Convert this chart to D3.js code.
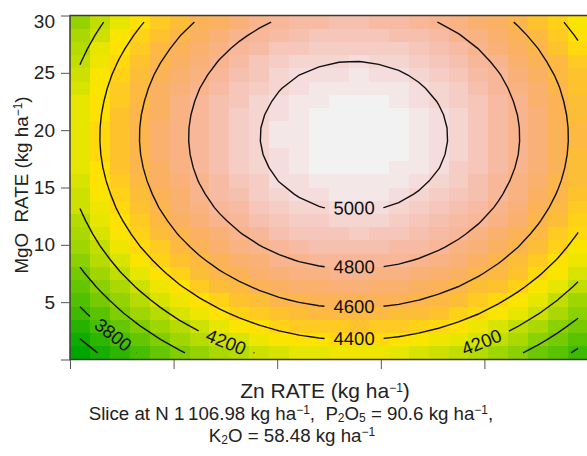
<!DOCTYPE html>
<html lang="en">
<head>
<meta charset="UTF-8">
<title>Zn x MgO yield surface</title>
<style>
  body { margin: 0; background: #fff; }
  svg { display: block; font-family: "Liberation Sans", Arial, sans-serif; }
  .axis path { display: none; }
  .axis line { stroke: #555; }
  .axis text { font-size: 19px; fill: #222; font-family: "Liberation Sans", Arial, sans-serif; }
  .contour { fill: none; stroke: #111; stroke-width: 1.4px; }
  .clabel { font-size: 18.5px; fill: #111; }
  .title { font-size: 21px; fill: #222; }
  .ytitle { font-size: 18.8px; fill: #222; }
  .caption { font-size: 18.7px; fill: #222; }
</style>
</head>
<body>
<svg width="587" height="456"></svg>
<script src="https://d3js.org/d3.v7.min.js"></script>
<script>
const znRange = [0, 10];
const mgoRange = [0, 30];
const znTicks = [0, 2, 4, 6, 8];
const mgoTicks = [0, 5, 10, 15, 20, 25, 30];
const levels = [3600, 3800, 4000, 4200, 4400, 4600, 4800, 5000];
const labelledLevels = [3800, 4200, 4400, 4600, 4800, 5000];

// predicted yield, 26 x 26 cells; first row = top (MgO 30), first column = Zn 0
const yieldRows = [
  [4067, 4180, 4285, 4381, 4468, 4548, 4618, 4680, 4733, 4778, 4815, 4843, 4862, 4873, 4875, 4868, 4854, 4830, 4798, 4758, 4709, 4651, 4585, 4510, 4427, 4335],
  [4115, 4228, 4333, 4429, 4516, 4596, 4666, 4728, 4781, 4826, 4863, 4891, 4910, 4921, 4923, 4916, 4902, 4878, 4846, 4806, 4757, 4699, 4633, 4558, 4475, 4383],
  [4157, 4270, 4375, 4471, 4558, 4638, 4708, 4770, 4823, 4868, 4905, 4933, 4952, 4963, 4965, 4958, 4944, 4920, 4888, 4848, 4799, 4741, 4675, 4600, 4517, 4425],
  [4193, 4306, 4411, 4507, 4594, 4674, 4744, 4806, 4859, 4904, 4941, 4969, 4988, 4999, 5001, 4994, 4980, 4956, 4924, 4884, 4835, 4777, 4711, 4636, 4553, 4461],
  [4224, 4337, 4442, 4538, 4625, 4705, 4775, 4837, 4890, 4935, 4972, 5000, 5019, 5030, 5032, 5025, 5011, 4987, 4955, 4915, 4866, 4808, 4742, 4667, 4584, 4492],
  [4248, 4361, 4466, 4562, 4649, 4729, 4799, 4861, 4914, 4959, 4996, 5024, 5043, 5054, 5056, 5049, 5035, 5011, 4979, 4939, 4890, 4832, 4766, 4691, 4608, 4516],
  [4266, 4379, 4484, 4580, 4667, 4747, 4817, 4879, 4932, 4977, 5014, 5042, 5061, 5072, 5074, 5067, 5053, 5029, 4997, 4957, 4908, 4850, 4784, 4709, 4626, 4534],
  [4279, 4392, 4497, 4593, 4680, 4760, 4830, 4892, 4945, 4990, 5027, 5055, 5074, 5085, 5087, 5080, 5066, 5042, 5010, 4970, 4921, 4863, 4797, 4722, 4639, 4547],
  [4286, 4399, 4504, 4600, 4687, 4767, 4837, 4899, 4952, 4997, 5034, 5062, 5081, 5092, 5094, 5087, 5073, 5049, 5017, 4977, 4928, 4870, 4804, 4729, 4646, 4554],
  [4287, 4400, 4505, 4601, 4688, 4768, 4838, 4900, 4953, 4998, 5035, 5063, 5082, 5093, 5095, 5088, 5074, 5050, 5018, 4978, 4929, 4871, 4805, 4730, 4647, 4555],
  [4282, 4395, 4500, 4596, 4683, 4763, 4833, 4895, 4948, 4993, 5030, 5058, 5077, 5088, 5090, 5083, 5069, 5045, 5013, 4973, 4924, 4866, 4800, 4725, 4642, 4550],
  [4271, 4384, 4489, 4585, 4672, 4752, 4822, 4884, 4937, 4982, 5019, 5047, 5066, 5077, 5079, 5072, 5058, 5034, 5002, 4962, 4913, 4855, 4789, 4714, 4631, 4539],
  [4254, 4367, 4472, 4568, 4655, 4735, 4805, 4867, 4920, 4965, 5002, 5030, 5049, 5060, 5062, 5055, 5041, 5017, 4985, 4945, 4896, 4838, 4772, 4697, 4614, 4522],
  [4231, 4344, 4449, 4545, 4632, 4712, 4782, 4844, 4897, 4942, 4979, 5007, 5026, 5037, 5039, 5032, 5018, 4994, 4962, 4922, 4873, 4815, 4749, 4674, 4591, 4499],
  [4203, 4316, 4421, 4517, 4604, 4684, 4754, 4816, 4869, 4914, 4951, 4979, 4998, 5009, 5011, 5004, 4990, 4966, 4934, 4894, 4845, 4787, 4721, 4646, 4563, 4471],
  [4168, 4281, 4386, 4482, 4569, 4649, 4719, 4781, 4834, 4879, 4916, 4944, 4963, 4974, 4976, 4969, 4955, 4931, 4899, 4859, 4810, 4752, 4686, 4611, 4528, 4436],
  [4128, 4241, 4346, 4442, 4529, 4609, 4679, 4741, 4794, 4839, 4876, 4904, 4923, 4934, 4936, 4929, 4915, 4891, 4859, 4819, 4770, 4712, 4646, 4571, 4488, 4396],
  [4082, 4195, 4300, 4396, 4483, 4563, 4633, 4695, 4748, 4793, 4830, 4858, 4877, 4888, 4890, 4883, 4869, 4845, 4813, 4773, 4724, 4666, 4600, 4525, 4442, 4350],
  [4030, 4143, 4248, 4344, 4431, 4511, 4581, 4643, 4696, 4741, 4778, 4806, 4825, 4836, 4838, 4831, 4817, 4793, 4761, 4721, 4672, 4614, 4548, 4473, 4390, 4298],
  [3972, 4085, 4190, 4286, 4373, 4453, 4523, 4585, 4638, 4683, 4720, 4748, 4767, 4778, 4780, 4773, 4759, 4735, 4703, 4663, 4614, 4556, 4490, 4415, 4332, 4240],
  [3908, 4021, 4126, 4222, 4309, 4389, 4459, 4521, 4574, 4619, 4656, 4684, 4703, 4714, 4716, 4709, 4695, 4671, 4639, 4599, 4550, 4492, 4426, 4351, 4268, 4176],
  [3838, 3951, 4056, 4152, 4239, 4319, 4389, 4451, 4504, 4549, 4586, 4614, 4633, 4644, 4646, 4639, 4625, 4601, 4569, 4529, 4480, 4422, 4356, 4281, 4198, 4106],
  [3763, 3876, 3981, 4077, 4164, 4244, 4314, 4376, 4429, 4474, 4511, 4539, 4558, 4569, 4571, 4564, 4550, 4526, 4494, 4454, 4405, 4347, 4281, 4206, 4123, 4031],
  [3681, 3794, 3899, 3995, 4082, 4162, 4232, 4294, 4347, 4392, 4429, 4457, 4476, 4487, 4489, 4482, 4468, 4444, 4412, 4372, 4323, 4265, 4199, 4124, 4041, 3949],
  [3594, 3707, 3812, 3908, 3995, 4075, 4145, 4207, 4260, 4305, 4342, 4370, 4389, 4400, 4402, 4395, 4381, 4357, 4325, 4285, 4236, 4178, 4112, 4037, 3954, 3862],
  [3500, 3613, 3718, 3814, 3901, 3981, 4051, 4113, 4166, 4211, 4248, 4276, 4295, 4306, 4308, 4301, 4287, 4263, 4231, 4191, 4142, 4084, 4018, 3943, 3860, 3768]
];

const svg = d3.select("svg");
const plot = { left: 70, right: 588, top: 15.5, bottom: 359.5 };
const nRows = yieldRows.length, nCols = yieldRows[0].length;

const x = d3.scaleLinear().domain(znRange).range([plot.left, plot.right]);
const y = d3.scaleLinear().domain(mgoRange).range([plot.bottom, plot.top]);

// grid coordinates (cell edges) -> data values
const colZn = g => znRange[0] + g * (znRange[1] - znRange[0]) / nCols;
const rowMgo = g => mgoRange[1] - g * (mgoRange[1] - mgoRange[0]) / nRows;
const toPx = p => [x(colZn(p[0])), y(rowMgo(p[1]))];

// R's terrain.colors(), a little more saturated like the printed figure
function hsvToRgb(h, s, v) {
  const i = Math.floor(h * 6), f = h * 6 - i;
  const p = v * (1 - s), q = v * (1 - f * s), t = v * (1 - (1 - f) * s);
  const m = [[v, t, p], [q, v, p], [p, v, t], [p, q, v], [t, p, v], [v, p, q]][i % 6];
  const c = d3.hsl(d3.rgb(m[0] * 255, m[1] * 255, m[2] * 255));
  c.s = Math.min(1, c.s * 1.25);
  return c.formatHex();
}
function terrainColors(n) {
  const k = Math.floor(n / 2), out = [];
  for (let j = 0; j < k; j++) {
    const t = j / (k - 1);
    out.push(hsvToRgb((4 - 2 * t) / 12, 1, 0.65 + 0.25 * t));
  }
  for (let j = 1; j <= n - k; j++) {
    const t = j / (n - k);
    out.push(hsvToRgb((2 - 2 * t) / 12, 1 - t, 0.9 + 0.05 * t));
  }
  return out;
}

const flat = yieldRows.flat();
const color = d3.scaleQuantize().domain(d3.extent(flat)).range(terrainColors(50));

svg.append("clipPath").attr("id", "plotclip")
  .append("rect")
  .attr("x", plot.left).attr("y", plot.top)
  .attr("width", plot.right - plot.left).attr("height", plot.bottom - plot.top);

const cells = [];
yieldRows.forEach((row, r) => row.forEach((v, i) => cells.push({ r, i, v })));

svg.append("g")
  .attr("clip-path", "url(#plotclip)")
  .selectAll("rect")
  .data(cells)
  .join("rect")
  .attr("x", d => x(colZn(d.i)))
  .attr("y", d => y(rowMgo(d.r)))
  .attr("width", d => x(colZn(d.i + 1)) - x(colZn(d.i)) + 0.6)
  .attr("height", d => y(rowMgo(d.r + 1)) - y(rowMgo(d.r)) + 0.6)
  .attr("fill", d => color(d.v))
  .attr("shape-rendering", "crispEdges");

// ---- contour lines (only between the cell centres, like R's contour) ----
const contours = d3.contours().size([nCols, nRows]).thresholds(levels)(flat);

const lo = 0.5, hiX = nCols - 0.5, hiY = nRows - 0.5;
function clipSeg(p, q) {
  let t0 = 0, t1 = 1;
  const dx = q[0] - p[0], dy = q[1] - p[1];
  const checks = [[-dx, p[0] - lo], [dx, hiX - p[0]], [-dy, p[1] - lo], [dy, hiY - p[1]]];
  for (const [pp, qq] of checks) {
    if (pp === 0) { if (qq < 0) return null; }
    else {
      const r = qq / pp;
      if (pp < 0) { if (r > t1) return null; if (r > t0) t0 = r; }
      else { if (r < t0) return null; if (r < t1) t1 = r; }
    }
  }
  return [[p[0] + t0 * dx, p[1] + t0 * dy], [p[0] + t1 * dx, p[1] + t1 * dy], t0 === 0, t1 === 1];
}

function ringPieces(ring) {
  const pieces = [];
  let cur = null;
  for (let k = 0; k < ring.length - 1; k++) {
    const c = clipSeg(ring[k], ring[k + 1]);
    if (!c) { cur = null; continue; }
    const [a, b, aIn, bIn] = c;
    if (cur && aIn) cur.push(b);
    else { cur = [a, b]; pieces.push(cur); }
    if (!bIn) cur = null;
  }
  if (pieces.length > 1) {
    const first = pieces[0], last = pieces[pieces.length - 1];
    const e = last[last.length - 1], s = first[0];
    if (Math.hypot(e[0] - s[0], e[1] - s[1]) < 1e-9 && ring[0][0] === s[0] && ring[0][1] === s[1]) {
      pieces[0] = last.concat(first.slice(1));
      pieces.pop();
    }
  }
  return pieces;
}

function cumLen(pts) {
  const cum = [0];
  for (let k = 1; k < pts.length; k++) {
    cum.push(cum[k - 1] + Math.hypot(pts[k][0] - pts[k - 1][0], pts[k][1] - pts[k - 1][1]));
  }
  return cum;
}
function pointAt(pts, cum, s) {
  const k = d3.bisectLeft(cum, s);
  if (k <= 0) return pts[0];
  if (k >= pts.length) return pts[pts.length - 1];
  const seg = cum[k] - cum[k - 1], f = seg > 0 ? (s - cum[k - 1]) / seg : 0;
  return [pts[k - 1][0] + f * (pts[k][0] - pts[k - 1][0]), pts[k - 1][1] + f * (pts[k][1] - pts[k - 1][1])];
}
function slicePts(pts, cum, s0, s1) {
  const out = [pointAt(pts, cum, s0)];
  for (let k = 0; k < pts.length; k++) if (cum[k] > s0 && cum[k] < s1) out.push(pts[k]);
  out.push(pointAt(pts, cum, s1));
  return out;
}

// label width for each level
const measure = svg.append("text").attr("class", "clabel");
const labelWidth = {};
levels.forEach(l => { labelWidth[l] = measure.text(l).node().getComputedTextLength(); });
measure.remove();

const pad = 9, halfH = 7;
function boxInside(m, ang, hw) {
  const ca = Math.cos(ang), sa = Math.sin(ang);
  return [[-hw, -halfH], [hw, -halfH], [hw, halfH], [-hw, halfH]].every(([dx, dy]) => {
    const px = m[0] + dx * ca - dy * sa, py = m[1] + dx * sa + dy * ca;
    return px >= plot.left && px <= plot.right && py >= plot.top && py <= plot.bottom;
  });
}

// flattest spot along a line where the label fits
function findLabel(pts, cum, w) {
  const L = cum[cum.length - 1], G = w + 2 * pad;
  if (L < G + 2) return null;
  let best = null;
  for (let s = G / 2; s <= L - G / 2; s += 1) {
    const a = pointAt(pts, cum, s - G / 2), b = pointAt(pts, cum, s + G / 2);
    let ang = Math.atan2(b[1] - a[1], b[0] - a[0]);
    if (ang > Math.PI / 2) ang -= Math.PI;
    if (ang < -Math.PI / 2) ang += Math.PI;
    const m = [(a[0] + b[0]) / 2, (a[1] + b[1]) / 2];
    if (!boxInside(m, ang, w / 2 + 1)) continue;
    const score = Math.abs(ang) - m[1] * 0.0008;
    if (!best || score < best.score) best = { s, m, ang, score, G };
  }
  return best;
}

const lineGen = d3.line();
const gLines = svg.append("g");
const gLabels = svg.append("g");

contours.forEach(c => {
  const level = c.value;
  c.coordinates.forEach(poly => poly.forEach(ring => {
    ringPieces(ring).forEach(piece => {
      let pts = piece.map(toPx);
      const closed = Math.hypot(pts[0][0] - pts[pts.length - 1][0], pts[0][1] - pts[pts.length - 1][1]) < 1e-6;
      if (closed) {
        // start closed rings at their top so the bottom is in the middle
        const top = d3.minIndex(pts, p => p[1]);
        pts = pts.slice(top, pts.length - 1).concat(pts.slice(0, top + 1));
      }
      const cum = cumLen(pts);
      const lab = labelledLevels.includes(level) ? findLabel(pts, cum, labelWidth[level]) : null;
      let parts = [pts];
      if (lab) {
        const L = cum[cum.length - 1];
        parts = [slicePts(pts, cum, 0, lab.s - lab.G / 2), slicePts(pts, cum, lab.s + lab.G / 2, L)];
        if (closed) parts = [parts[1].concat(parts[0])];
        gLabels.append("text")
          .attr("class", "clabel")
          .attr("text-anchor", "middle")
          .attr("dy", "0.36em")
          .attr("transform", `translate(${lab.m[0]},${lab.m[1]}) rotate(${lab.ang * 180 / Math.PI})`)
          .text(level);
      }
      parts.forEach(p => {
        if (p.length > 1) gLines.append("path").attr("class", "contour").attr("d", lineGen(p));
      });
    });
  }));
});

// ---- frame and axes ----
svg.append("rect")
  .attr("x", plot.left).attr("y", plot.top)
  .attr("width", plot.right - plot.left).attr("height", plot.bottom - plot.top)
  .attr("fill", "none").attr("stroke", "#3d3a33").attr("stroke-width", 1.5);

const yAxis = svg.append("g")
  .attr("class", "axis")
  .attr("transform", `translate(${plot.left},0)`)
  .call(d3.axisLeft(y).tickValues(mgoTicks).tickSize(9).tickPadding(6)
    .tickFormat(d => d === 0 ? "" : d));
yAxis.selectAll(".tick").filter(d => d === 30).select("text").attr("dy", "0.64em");

svg.append("g")
  .attr("class", "axis")
  .attr("transform", `translate(0,${plot.bottom + 0.5})`)
  .call(d3.axisBottom(x).tickValues(znTicks).tickSize(9).tickFormat(() => ""));

// text with super/subscripts
function rich(sel, parts) {
  let shift = 0;
  parts.forEach(([txt, mode]) => {
    const target = mode === "sup" ? -6 : mode === "sub" ? 2 : 0;
    const t = sel.append("tspan").text(txt).attr("dy", target - shift);
    if (mode) t.attr("font-size", 12);
    shift = target;
  });
}

rich(svg.append("text").attr("class", "ytitle").attr("text-anchor", "middle")
  .attr("transform", "translate(28,185) rotate(-90)"),
  [["MgO\u00a0 RATE (kg ha"], ["\u22121", "sup"], [")"]]);

rich(svg.append("text").attr("class", "title").attr("text-anchor", "middle")
  .attr("x", 325).attr("y", 398),
  [["Zn RATE (kg ha"], ["\u22121", "sup"], [")"]]);

rich(svg.append("text").attr("class", "caption").attr("text-anchor", "middle")
  .attr("x", 291).attr("y", 420),
  [["Slice at N 1\u2009106.98 kg ha"], ["\u22121", "sup"], [",\u00a0 P"], ["2", "sub"], ["O"], ["5", "sub"],
   [" = 90.6 kg ha"], ["\u22121", "sup"], [","]]);

rich(svg.append("text").attr("class", "caption").attr("text-anchor", "middle")
  .attr("x", 292).attr("y", 442),
  [["K"], ["2", "sub"], ["O = 58.48 kg ha"], ["\u22121", "sup"]]);
</script>
</body>
</html>
